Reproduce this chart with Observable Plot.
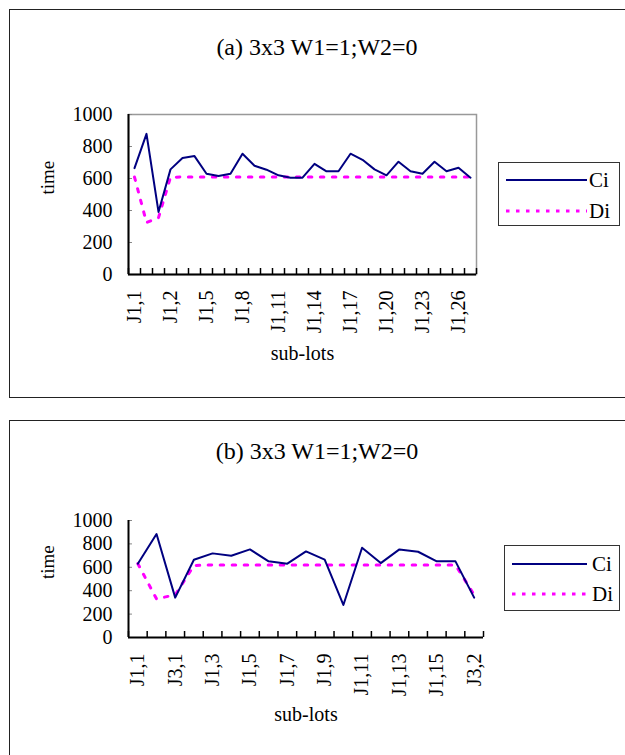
<!DOCTYPE html>
<html><head><meta charset="utf-8">
<script src="https://cdn.jsdelivr.net/npm/d3@7"></script>
<script src="https://cdn.jsdelivr.net/npm/@observablehq/plot@0.6"></script>
<style>
body{margin:0;background:#fff;width:625px;height:755px;position:relative;overflow:hidden;font-family:"Liberation Serif","DejaVu Serif",serif;color:#000}
.panel{position:absolute;border:1.5px solid #222;box-sizing:border-box}
.title{position:absolute;left:0;width:634px;text-align:center;font-size:24px;line-height:24px;white-space:nowrap}
.chart{position:absolute;left:0}
.legend{position:absolute;border:1px solid #333;box-sizing:border-box;background:#fff}
.legend .row{position:absolute;left:0;height:22px;font-size:21px;line-height:22px}
.legend svg{position:absolute;top:0}
.legend span{position:absolute;top:0}
</style></head>
<body>
<div class="panel" style="left:9px;top:9px;width:640px;height:389px"></div>
<div class="panel" style="left:9px;top:420px;width:640px;height:360px"></div>
<div class="title" style="top:35px">(a) 3x3 W1=1;W2=0</div>
<div class="title" style="top:439px">(b) 3x3 W1=1;W2=0</div>
<div id="chartA" class="chart" style="top:100px"></div>
<div id="chartB" class="chart" style="top:505px"></div>
<div id="legA" class="legend" style="left:498px;top:162px;width:122px;height:64px"></div>
<div id="legB" class="legend" style="left:504px;top:545px;width:116px;height:66px"></div>
<script>
// ---- data: chart (a)
const catsA = ["J1,1","J2,1","J3,1","J1,2","J1,3","J1,4","J1,5","J1,6","J1,7","J1,8","J1,9","J1,10","J1,11","J1,12","J1,13","J1,14","J1,15","J1,16","J1,17","J1,18","J1,19","J1,20","J1,21","J1,22","J1,23","J1,24","J1,25","J1,26","J1,27"];
const ciA = [665,879,391,657,728,740,630,615,630,755,680,655,620,605,605,692,645,645,755,717,657,620,705,645,630,705,645,667,605];
const diA = [609,325,355,608,609,609,609,609,609,609,609,609,609,609,609,609,609,609,609,609,609,609,609,609,609,609,609,609,609];
const labelsA = ["J1,1","J1,2","J1,5","J1,8","J1,11","J1,14","J1,17","J1,20","J1,23","J1,26"];
// ---- data: chart (b)
const catsB = ["J1,1","J2,1","J3,1","J1,2","J1,3","J1,4","J1,5","J1,6","J1,7","J1,8","J1,9","J1,10","J1,11","J1,12","J1,13","J1,14","J1,15","J1,16","J3,2"];
const ciB = [631,884,341,665,719,699,753,651,631,736,665,278,767,636,753,733,651,651,341];
const diB = [631,330,365,615,620,620,620,620,620,620,620,620,620,620,620,620,620,620,364];
const labelsB = ["J1,1","J3,1","J1,3","J1,5","J1,7","J1,9","J1,11","J1,13","J1,15","J3,2"];
const yTicks = [0,200,400,600,800,1000];
const seriesNames = ["Ci","Di"];
const colors = {Ci:"#000080", Di:"#ff00ff"};

function chart({cats, ci, di, labels, width, height, mt, mb, mr, frame, subDy}) {
  const n = cats.length;
  const rows = cats.map((c, i) => ({i, c, ci: ci[i], di: di[i]}));
  const bounds = d3.range(n + 1).map(k => k - 0.5);
  const labelIdx = labels.map(l => cats.indexOf(l));
  return Plot.plot({
    width, height, marginTop: mt, marginBottom: mb, marginLeft: 128, marginRight: mr,
    style: {fontFamily: '"Liberation Serif", serif', fontSize: "19px", background: "transparent", color: "#000", overflow: "visible"},
    x: {type: "linear", domain: [-0.5, n - 0.5]},
    y: {domain: [0, 1000]},
    marks: [
      frame ? Plot.frame({stroke: "#999", strokeWidth: 1.5}) : null,
      Plot.axisY({ticks: yTicks, tickSize: -4, tickPadding: 20, stroke: "#888", fontSize: 20, tickFormat: d => String(d), label: null}),
      Plot.axisX({ticks: bounds, tickSize: -6, tickFormat: () => "", strokeWidth: 1.5, label: null}),
      Plot.axisX({ticks: labelIdx, tickSize: 0, tickRotate: -90, tickPadding: 16, fontSize: 20, tickFormat: i => cats[i], label: null}),
      Plot.ruleY([0], {strokeWidth: 2}),
      Plot.ruleX([-0.5], {strokeWidth: 2}),
      Plot.lineY(rows, {x: "i", y: "di", stroke: colors.Di, strokeWidth: 3, strokeDasharray: "3.5,8.5"}),
      Plot.lineY(rows, {x: "i", y: "ci", stroke: colors.Ci, strokeWidth: 2}),
      Plot.text(["time"], {text: d => d, frameAnchor: "left", dx: -81, rotate: -90, fontSize: 19}),
      Plot.text(["sub-lots"], {text: d => d, frameAnchor: "bottom", dy: subDy, fontSize: 20})
    ]
  });
}

document.getElementById("chartA").append(chart({cats: catsA, ci: ciA, di: diA, labels: labelsA, width: 490, height: 280, mt: 14, mb: 106, mr: 14, frame: true, subDy: 85}));
document.getElementById("chartB").append(chart({cats: catsB, ci: ciB, di: diB, labels: labelsB, width: 497, height: 232, mt: 15, mb: 100, mr: 14, frame: false, subDy: 83}));

function legend(id, lineX0, lineX1, textX, rowTops) {
  const el = document.getElementById(id);
  seriesNames.forEach((name, k) => {
    const row = document.createElement("div");
    row.className = "row";
    row.style.top = rowTops[k] + "px";
    row.style.width = "100%";
    const dash = name === "Di" ? ' stroke-dasharray="3.5,6.5"' : "";
    const sw = name === "Di" ? 3 : 2;
    row.innerHTML = `<svg width="${lineX1}" height="22"><line x1="${lineX0}" x2="${lineX1}" y1="11" y2="11" stroke="${colors[name]}" stroke-width="${sw}"${dash}/></svg><span style="left:${textX}px">${name}</span>`;
    el.append(row);
  });
}
legend("legA", 7, 88, 90, [6, 37]);
legend("legB", 7, 82, 87, [7, 37]);
</script>
</body></html>
